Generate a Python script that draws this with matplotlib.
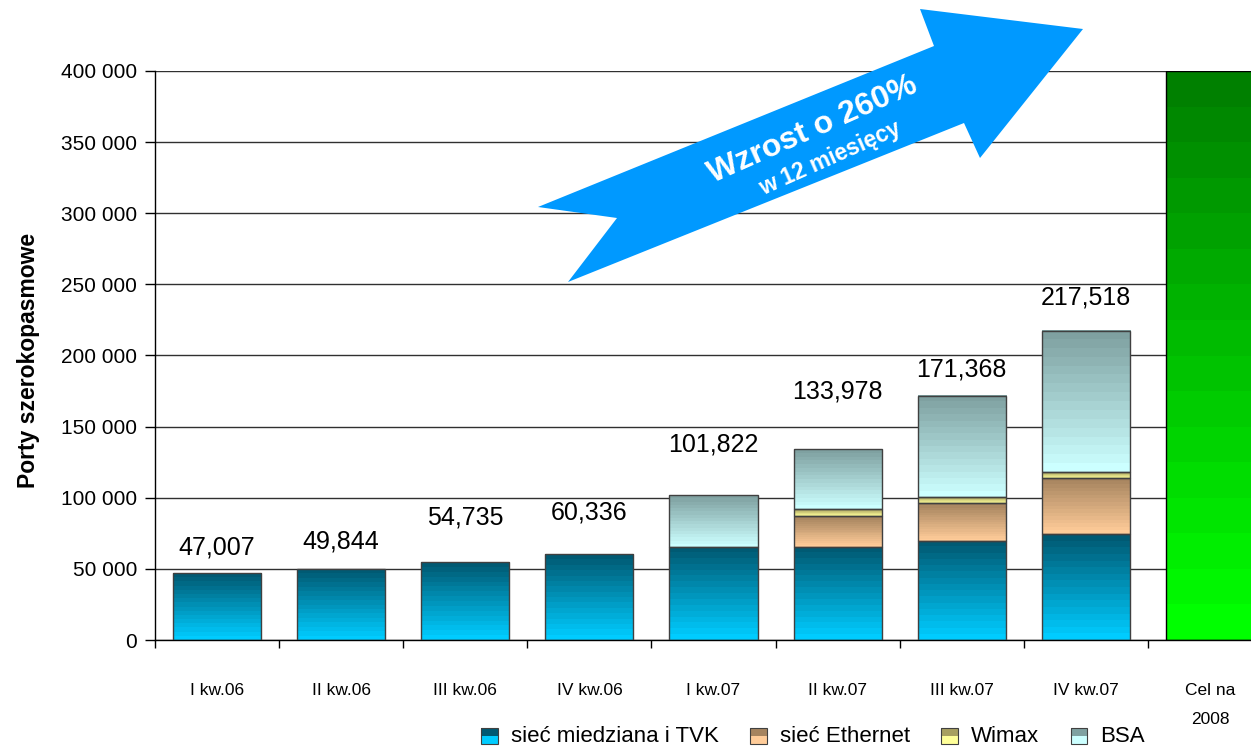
import matplotlib
matplotlib.use("Agg")
import matplotlib.pyplot as plt
import numpy as np
from matplotlib.colors import LinearSegmentedColormap
from matplotlib.patches import Polygon, Rectangle
from matplotlib.legend_handler import HandlerBase
from matplotlib.ticker import FuncFormatter, FixedLocator

plt.rcParams['font.family'] = ['Liberation Sans', 'DejaVu Sans']

quarters = ["I kw.06", "II kw.06", "III kw.06", "IV kw.06",
            "I kw.07", "II kw.07", "III kw.07", "IV kw.07", "Cel na\n2008"]
totals = [47007, 49844, 54735, 60336, 101822, 133978, 171368, 217518]
copper = [47007, 49844, 54735, 60336, 65400, 65500, 69600, 74300]
ethernet = [0, 0, 0, 0, 0, 21500, 26500, 39400]
wimax = [0, 0, 0, 0, 0, 4900, 4200, 4200]
target_2008 = 400000

series_names = ["sieć miedziana i TVK", "sieć Ethernet", "Wimax", "BSA"]
# (bottom colour, top colour) of each gradient
series_colors = [("#00CCFF", "#005A73"),
                 ("#FFCC99", "#A6845F"),
                 ("#FFFF99", "#A8A060"),
                 ("#CCFFFF", "#7FA1A1")]
target_colors = ("#00FF00", "#008000")

# BSA fills the rest of each quarter up to the labelled total
bsa = [t - c - e - w for t, c, e, w in zip(totals, copper, ethernet, wimax)]

W, H = 1251, 749
fig = plt.figure(figsize=(W / 100, H / 100), dpi=100)
ax = fig.add_axes([155 / W, 1 - 640 / H, (1272 - 155) / W, (640 - 71) / H])

bar_w = 0.71


def gradient_bar(x, bottom, height, low, high, edge="#404040"):
    if height <= 0:
        return
    cmap = LinearSegmentedColormap.from_list("g", [low, high], N=16)
    grad = np.linspace(0, 1, 128).reshape(-1, 1)
    ax.imshow(grad, cmap=cmap, origin="lower", aspect="auto",
              interpolation="nearest", zorder=2,
              extent=(x - bar_w / 2, x + bar_w / 2, bottom, bottom + height))
    ax.bar(x, height, bar_w, bottom=bottom, facecolor="none",
           edgecolor=edge, linewidth=1.0, zorder=3)


x = np.arange(len(totals))
stacks = [copper, ethernet, wimax, bsa]
for i in x:
    base = 0
    for values, (lo, hi) in zip(stacks, series_colors):
        gradient_bar(i, base, values[i], lo, hi)
        base += values[i]

gradient_bar(len(totals), 0, target_2008, *target_colors, edge="#000000")

# value labels above the quarter bars (lift in pixels)
label_lift = [26, 28, 45, 42, 51, 58, 27, 33]
px = (640 - 71) / 400000
for i, t in enumerate(totals):
    ax.text(i, t + label_lift[i] / px, f"{t:,}", ha="center", va="center",
            fontsize=18, zorder=5)

ax.set_xlim(-0.5, len(quarters) - 0.5)
ax.set_ylim(0, 400000)
ax.set_yticks(np.arange(0, 400001, 50000))
ax.yaxis.set_major_formatter(FuncFormatter(
    lambda v, p: f"{int(v):,}".replace(",", " ")))
ax.tick_params(axis="y", labelsize=15, length=7, width=1, pad=6)
ax.grid(axis="y", color="#303030", linewidth=1, zorder=0)
ax.set_axisbelow(True)

# ticks between categories, labels centred under the bars
ax.xaxis.set_major_locator(FixedLocator(np.arange(-0.5, len(quarters), 1)))
ax.xaxis.set_major_formatter(FuncFormatter(lambda v, p: ""))
ax.xaxis.set_minor_locator(FixedLocator(np.arange(len(quarters))))
ax.set_xticklabels(quarters, minor=True)
ax.tick_params(axis="x", which="major", length=6, width=1)
ax.tick_params(axis="x", which="minor", length=0, pad=31, labelsize=12.5)
for lab in ax.get_xticklabels(minor=True):
    lab.set_verticalalignment("top")
    lab.set_linespacing(2.15)

for side in ("top", "right"):
    ax.spines[side].set_visible(False)
ax.spines["left"].set_linewidth(1)
ax.spines["bottom"].set_linewidth(1)

ax.set_ylabel("Porty szerokopasmowe", fontsize=16.5, fontweight="bold")
ax.yaxis.set_label_coords(40 / W, 1 - 360 / H, transform=fig.transFigure)


class TwoToneHandler(HandlerBase):
    def create_artists(self, legend, orig_handle, xdescent, ydescent,
                       width, height, fontsize, trans):
        lo, hi = orig_handle
        s = height * 1.05
        x0 = (width - s) / 2 - xdescent
        y0 = (height - s) / 2 - ydescent - 1
        low = Rectangle((x0, y0), s, s / 2, facecolor=lo, edgecolor="none",
                        transform=trans)
        high = Rectangle((x0, y0 + s / 2), s, s / 2, facecolor=hi,
                         edgecolor="none", transform=trans)
        box = Rectangle((x0, y0), s, s, facecolor="none", edgecolor="#404040",
                        linewidth=0.8, transform=trans)
        return [low, high, box]


handles = [tuple(c) for c in series_colors]
fig.legend(handles, series_names, handler_map={tuple: TwoToneHandler()},
           loc="center", bbox_to_anchor=(812 / W, 1 - 737 / H), ncol=4,
           frameon=False, fontsize=16, handlelength=0.9, handletextpad=0.5,
           columnspacing=1.35, borderaxespad=0)

# growth arrow drawn across the plot
arrow_px = [(920, 9), (1083, 29), (980, 158), (964, 123), (568, 282),
            (617, 218), (538, 207), (934, 46)]
arrow = Polygon([(px_ / W, 1 - py_ / H) for px_, py_ in arrow_px],
                closed=True, facecolor="#0099FF", edgecolor="none",
                transform=fig.transFigure, zorder=10)
fig.add_artist(arrow)
fig.text(813 / W, 1 - 130 / H, "Wzrost o 260%", color="white",
         fontsize=23, fontweight="bold", rotation=24, ha="center",
         va="center", rotation_mode="anchor", zorder=11)
fig.text(830 / W, 1 - 158 / H, "w 12 miesięcy", color="white",
         fontsize=16.5, fontweight="bold", rotation=24, ha="center",
         va="center", rotation_mode="anchor", zorder=11)

fig.savefig("out.png", dpi=100)
